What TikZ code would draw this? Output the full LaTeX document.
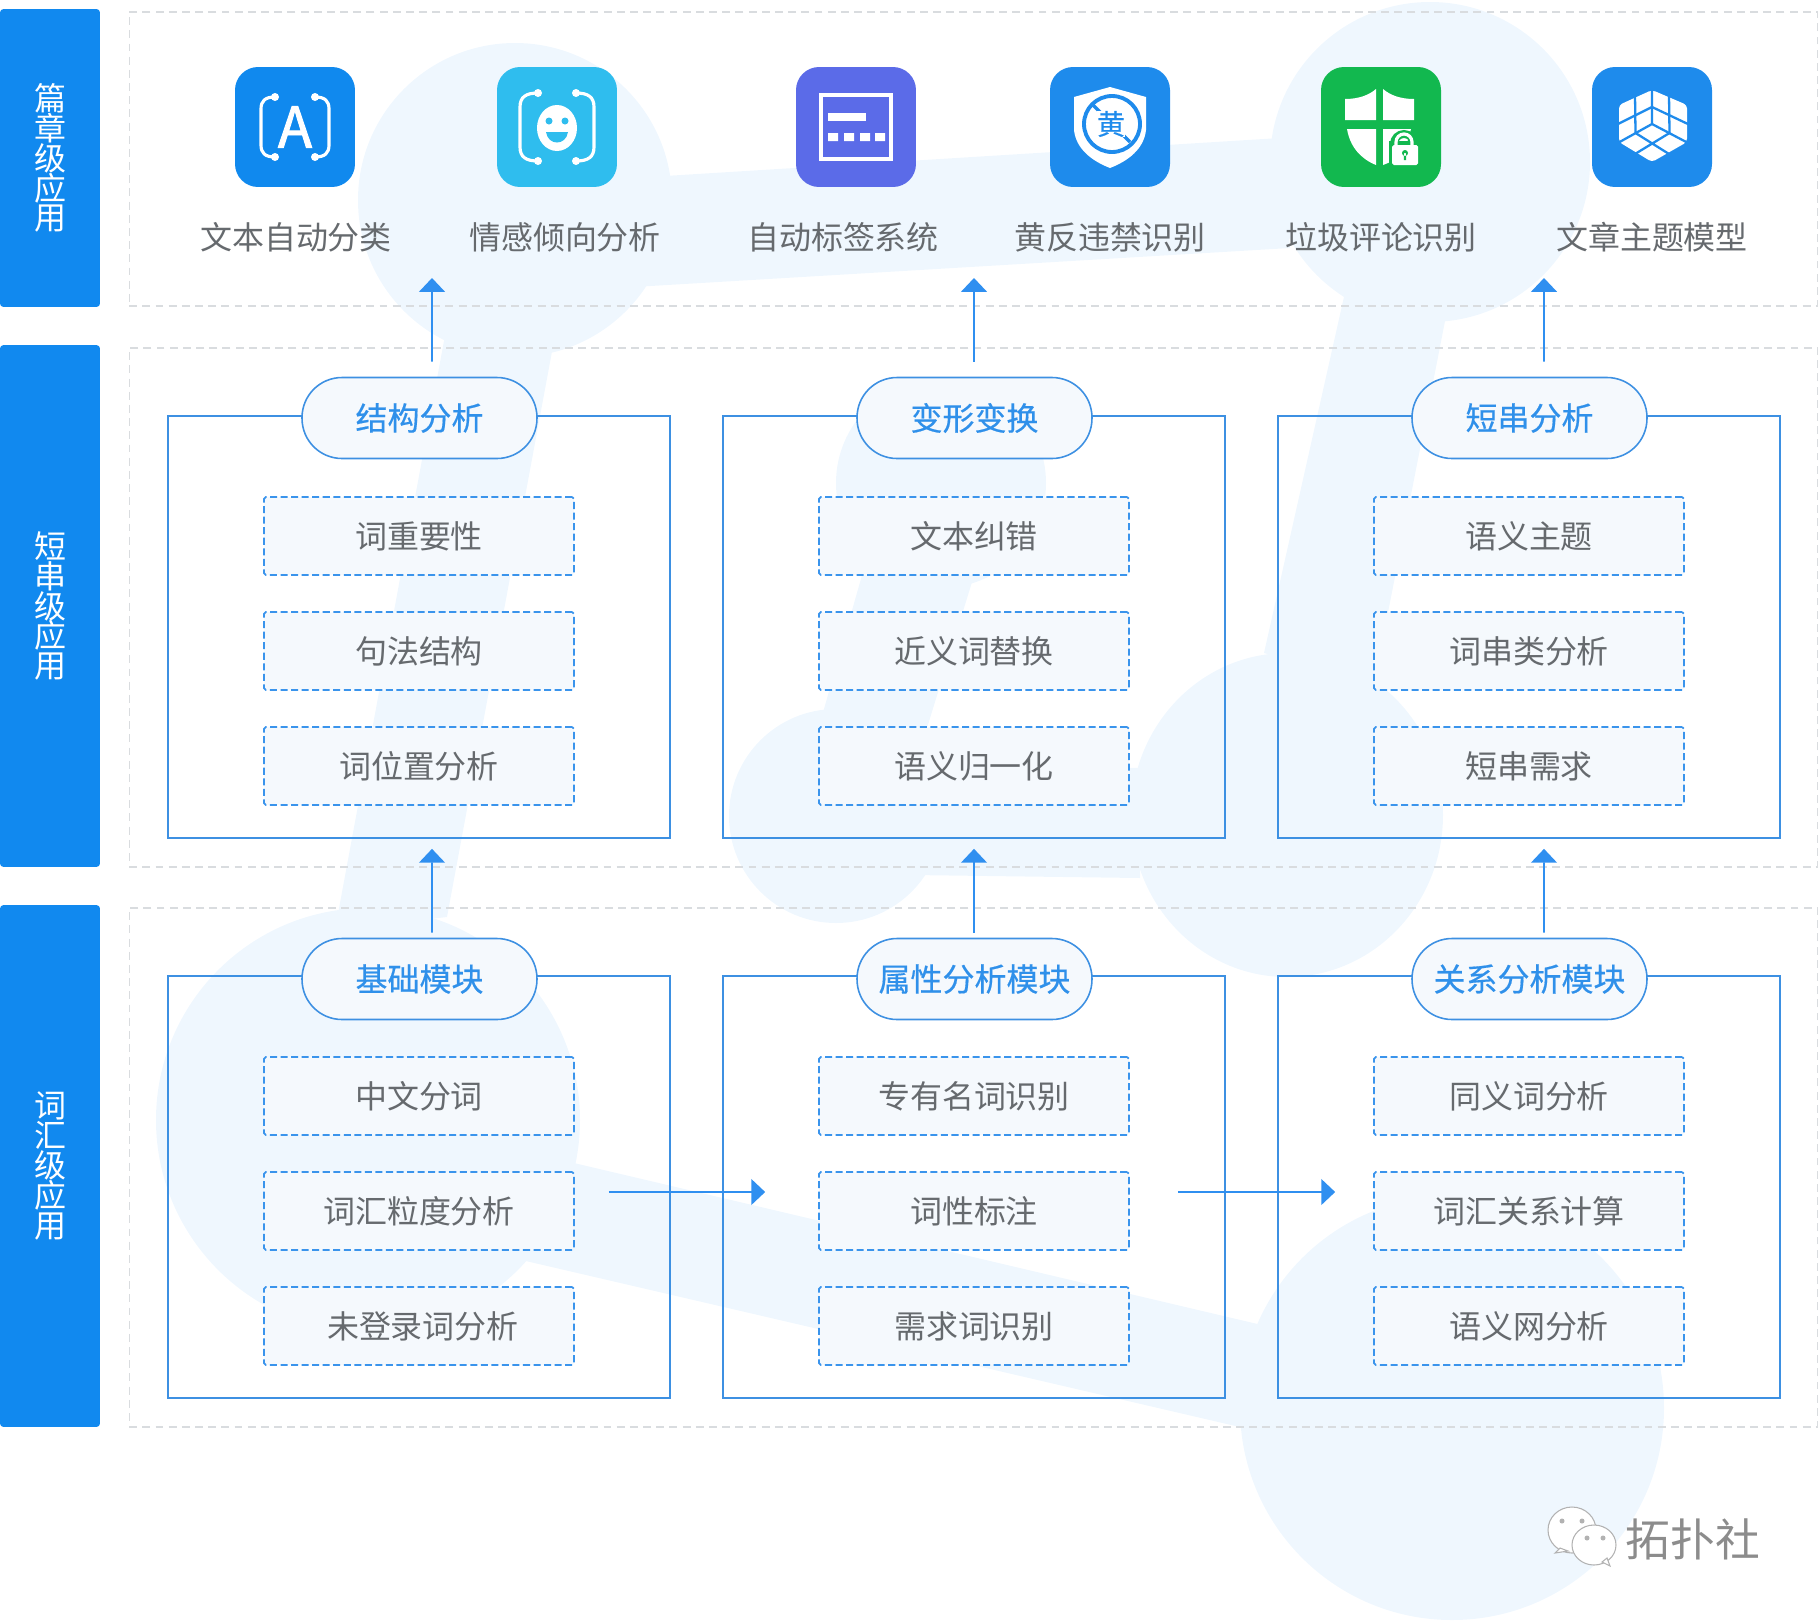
\documentclass[tikz,border=0pt]{standalone}
\usepackage{fontspec}
\setmainfont{Noto Sans CJK SC}
\newfontfamily\cjkmed[FakeBold=0.5]{Noto Sans CJK SC}
\newfontfamily\cjkheavy[FakeBold=1.6]{Noto Sans CJK SC}
\usetikzlibrary{arrows.meta,calc}
\definecolor{bgblue}{HTML}{EFF7FE}
\definecolor{bandblue}{HTML}{1189EF}
\definecolor{lineblue}{HTML}{3D90E2}
\definecolor{dashblue}{HTML}{3A94EC}
\definecolor{arblue}{HTML}{2F8FF0}
\definecolor{pilltxt}{HTML}{2F90EA}
\definecolor{boxfill}{HTML}{F5F9FD}
\definecolor{txtgray}{HTML}{666A6E}
\definecolor{framegray}{HTML}{D9DCDF}
\definecolor{icoa}{HTML}{1089EE}
\definecolor{icob}{HTML}{2FBDEE}
\definecolor{icoc}{HTML}{5B6BE8}
\definecolor{icod}{HTML}{1E8BEC}
\definecolor{icoe}{HTML}{12B84F}
\tikzset{
  bgshape/.style={fill=bgblue},
  band/.style={fill=bandblue,rounded corners=2pt,minimum width=2cm,inner sep=0pt,text=white,align=center,font=\fontsize{18.2pt}{17pt}\selectfont},
  frame/.style={draw=framegray,line width=0.7pt,dash pattern=on 4.5pt off 3pt,minimum width=33.78cm,inner sep=0pt},
  grp/.style={draw=lineblue,line width=1pt,minimum width=10.04cm,minimum height=8.44cm,inner sep=0pt},
  pill/.style={draw=lineblue,line width=0.9pt,fill=boxfill,rounded corners=0.8cm,minimum width=4.7cm,minimum height=1.62cm,inner sep=0pt,text=pilltxt,font=\cjkmed\fontsize{18.2pt}{18pt}\selectfont},
  item/.style={draw=dashblue,line width=1pt,dash pattern=on 4pt off 2pt,fill=boxfill,rounded corners=1pt,minimum width=6.2cm,minimum height=1.56cm,inner sep=0pt,text=txtgray,font=\fontsize{18.2pt}{18pt}\selectfont},
  ico/.style={rounded corners=0.46cm,minimum width=2.4cm,minimum height=2.4cm,inner sep=0pt},
  lbl/.style={text=txtgray,inner sep=0pt,font=\fontsize{18.2pt}{18pt}\selectfont},
  ar/.style={-{Triangle[length=7.9pt,width=14.7pt]},draw=arblue,line width=1pt},
  glyphln/.style={draw=white,line width=1.8pt},
  bubble/.style={fill=white,draw=black!30,line width=0.6pt}
}
\begin{document}
\begin{tikzpicture}[x=0.02cm,y=-0.02cm]
\useasboundingbox (0,0) rectangle (1819,1620);

% background
\fill[bgshape] (515,200) circle[radius=157];
\fill[bgshape] (1430,162) circle[radius=160];
\fill[bgshape] (941,483) circle[radius=105];
\fill[bgshape] (836,816) circle[radius=107];
\fill[bgshape] (1287,815) ellipse[x radius=156,y radius=162];
\fill[bgshape] (368,1120) circle[radius=212];
\fill[bgshape] (1452,1408) circle[radius=212];
\fill[bgshape] (600,180) -- (1280,138) -- (1290,248) -- (600,289) -- cycle;
\fill[bgshape] (446,330) -- (556,330) -- (447,917) -- (335,930) -- cycle;
\fill[bgshape] (872,540) -- (985,540) -- (914,770) -- (818,730) -- cycle;
\fill[bgshape] (1350,270) -- (1455,270) -- (1374,684) -- (1264,653) -- cycle;
\fill[bgshape] (836,762) -- (1140,768) -- (1140,878) -- (836,874) -- cycle;
\fill[bgshape] (540,1155) -- (1300,1334) -- (1300,1441) -- (500,1255) -- cycle;

\node[frame,minimum height=5.88cm] (frta) at (973.5,159) {};
\node[frame,minimum height=10.38cm] (frtb) at (973.5,607.5) {};
\node[frame,minimum height=10.38cm] (frtc) at (973.5,1167.5) {};

\node[band,minimum height=5.96cm] (banda) at (50,158) {篇\\章\\级\\应\\用};
\node[band,minimum height=10.44cm] (bandb) at (50,606) {短\\串\\级\\应\\用};
\node[band,minimum height=10.44cm] (bandc) at (50,1166) {词\\汇\\级\\应\\用};

% icons
\node[ico,fill=icoa] (icona) at (295,127) {};
\begin{scope}[shift={(295,127)}]
\draw[glyphln] (-20,-30) .. controls (-30,-30) and (-34,-26) .. (-34,-18) -- (-34,18) .. controls (-34,26) and (-30,30) .. (-20,30);
\draw[glyphln] (20,-30) .. controls (30,-30) and (34,-26) .. (34,-18) -- (34,18) .. controls (34,26) and (30,30) .. (20,30);
\fill[white] (-20,-30) circle[radius=4] (20,-30) circle[radius=4] (-20,30) circle[radius=4] (20,30) circle[radius=4];
\node[inner sep=0pt,text=white,font=\cjkheavy\fontsize{32pt}{32pt}\selectfont] (icaa) at (0,0) {A};
\end{scope}

\node[ico,fill=icob] (iconb) at (557,127) {};
\begin{scope}[shift={(557,127)}]
\draw[glyphln] (-19,-34) .. controls (-31,-34) and (-37,-30) .. (-37,-20) -- (-37,20) .. controls (-37,30) and (-31,34) .. (-19,34);
\draw[glyphln] (19,-34) .. controls (31,-34) and (37,-30) .. (37,-20) -- (37,20) .. controls (37,30) and (31,34) .. (19,34);
\fill[white] (-19,-34) circle[radius=4] (19,-34) circle[radius=4] (-19,34) circle[radius=4] (19,34) circle[radius=4];
\fill[white] (0,1) ellipse[x radius=20,y radius=23];
\fill[icob] (-8,-6) circle[radius=3.5] (8,-6) circle[radius=3.5];
\fill[icob] (-11,5) .. controls (-9,19) and (9,19) .. (11,5) -- cycle;
\end{scope}

\node[ico,fill=icoc] (iconc) at (856,127) {};
\begin{scope}[shift={(856,127)}]
\draw[white,line width=2.8pt] (-35,-32) rectangle (35,32);
\fill[white] (-28,-14) rectangle (10,-6);
\fill[white] (-28,6) rectangle (-18,14) (-12,6) rectangle (-2,14) (4,6) rectangle (14,14) (19,6) rectangle (29,14);
\end{scope}

\node[ico,fill=icod] (icond) at (1110,127) {};
\begin{scope}[shift={(1110,127)}]
\fill[white] (0,-40) -- (36,-30) -- (36,3) .. controls (34,22) and (18,34) .. (0,41) .. controls (-18,34) and (-34,22) .. (-36,3) -- (-36,-30) -- cycle;
\draw[icod,line width=2.2pt] (2,-3) circle[radius=28];
\draw[icod,line width=2pt] (-18,-23) -- (20,15);
\node[inner sep=0pt,fill=white,text=icod,font=\cjkmed\fontsize{16pt}{16pt}\selectfont] (icdh) at (1,-3) {黄};
\end{scope}

\node[ico,fill=icoe] (icone) at (1381,127) {};
\begin{scope}[shift={(1381,127)}]
\fill[white] (-36,-28) .. controls (-22,-28) and (-12,-32) .. (-5,-38) -- (-5,-7) -- (-36,-7) -- cycle;
\fill[white] (33,-28) .. controls (19,-28) and (9,-32) .. (2,-38) -- (2,-7) -- (33,-7) -- cycle;
\fill[white] (-34,2) -- (-5,2) -- (-5,38) .. controls (-20,32) and (-31,20) .. (-34,2) -- cycle;
\fill[white] (2,2) -- (30,2) -- (22,30) -- (2,38) -- cycle;
\draw[icoe,line width=4.5pt] (13,22) -- (13,17) arc[start angle=180,end angle=360,radius=10] -- (33,22);
\fill[icoe] (8,14) rectangle (40,42);
\draw[white,line width=1.8pt] (15,20) -- (15,15) arc[start angle=180,end angle=360,radius=8] -- (31,20);
\fill[white,rounded corners=1pt] (11,18) rectangle (37,38);
\fill[icoe] (24,26) circle[radius=3] (22.8,26) rectangle (25.2,33);
\end{scope}

\node[ico,fill=icod] (iconf) at (1652,127) {};
\begin{scope}[shift={(1652,127)}]
\fill[white,rounded corners=2pt] (0,-37) -- (35,-22) -- (35,15) -- (0,35) -- (-33,15) -- (-33,-22) -- cycle;
\draw[icod,line width=1.3pt] (0,-40) -- (0,-3) -- (38,17) (0,-3) -- (-36,17);
\draw[icod,line width=1.3pt] (-17,-32) -- (-16.5,6) -- (17,27) (17,-32) -- (17.5,6) -- (-17,27);
\draw[icod,line width=1.3pt] (-36,-2) -- (0,-20) -- (38,-2);
\end{scope}

\node[lbl] (lbla) at (296,237) {文本自动分类};
\node[lbl] (lblb) at (565,237) {情感倾向分析};
\node[lbl] (lblc) at (843,237) {自动标签系统};
\node[lbl] (lbld) at (1110,237) {黄反违禁识别};
\node[lbl] (lble) at (1381,237) {垃圾评论识别};
\node[lbl] (lblf) at (1652,237) {文章主题模型};

% middle row
\node[grp] (ga) at (419,627) {};
\node[pill] (gap) at (419.5,418) {结构分析};
\node[item] (ga1) at (419,536) {词重要性};
\node[item] (ga2) at (419,651) {句法结构};
\node[item] (ga3) at (419,766) {词位置分析};

\node[grp] (gb) at (974,627) {};
\node[pill] (gbp) at (974.5,418) {变形变换};
\node[item] (gb1) at (974,536) {文本纠错};
\node[item] (gb2) at (974,651) {近义词替换};
\node[item] (gb3) at (974,766) {语义归一化};

\node[grp] (gc) at (1529,627) {};
\node[pill] (gcp) at (1529.5,418) {短串分析};
\node[item] (gc1) at (1529,536) {语义主题};
\node[item] (gc2) at (1529,651) {词串类分析};
\node[item] (gc3) at (1529,766) {短串需求};

% bottom row
\node[grp] (ha) at (419,1187) {};
\node[pill] (hap) at (419.5,979) {基础模块};
\node[item] (ha1) at (419,1096) {中文分词};
\node[item] (ha2) at (419,1211) {词汇粒度分析};
\node[item] (ha3) at (419,1326) {\hspace{4.5pt}未登录词分析};

\node[grp] (hb) at (974,1187) {};
\node[pill] (hbp) at (974.5,979) {属性分析模块};
\node[item] (hb1) at (974,1096) {专有名词识别};
\node[item] (hb2) at (974,1211) {词性标注};
\node[item] (hb3) at (974,1326) {需求词识别};

\node[grp] (hc) at (1529,1187) {};
\node[pill] (hcp) at (1529.5,979) {关系分析模块};
\node[item] (hc1) at (1529,1096) {同义词分析};
\node[item] (hc2) at (1529,1211) {词汇关系计算};
\node[item] (hc3) at (1529,1326) {语义网分析};

% arrows
\coordinate (tipa) at (432,278);
\coordinate (tipb) at (974,278);
\coordinate (tipc) at (1544,278);
\draw[ar] ([shift={(12.5,-15)}]gap.north) -- (tipa);
\draw[ar] ([shift={(-0.5,-15)}]gbp.north) -- (tipb);
\draw[ar] ([shift={(14.5,-15)}]gcp.north) -- (tipc);
\draw[ar] ([shift={(12.5,-5)}]hap.north) -- ([shift={(13,10)}]ga.south);
\draw[ar] ([shift={(-0.5,-5)}]hbp.north) -- ([shift={(0,10)}]gb.south);
\draw[ar] ([shift={(14.5,-5)}]hcp.north) -- ([shift={(15,10)}]gc.south);
\draw[ar] ([shift={(34,-19)}]ha2.east) -- ([shift={(-53,-19)}]hb2.west);
\draw[ar] ([shift={(48,-19)}]hb2.east) -- ([shift={(-38,-19)}]hc2.west);

% watermark
\fill[bubble] (1572,1530) ellipse[x radius=24,y radius=23];
\fill[bubble] (1560,1548) -- (1555,1553) -- (1568,1551) -- cycle;
\fill[bubble] (1594,1545) ellipse[x radius=22,y radius=20];
\fill[bubble] (1602,1562) -- (1610,1566) -- (1607,1558) -- cycle;
\fill[black!30] (1562,1521) circle[radius=2.5] (1582,1521) circle[radius=2.5] (1587,1538) circle[radius=2.5] (1603,1538) circle[radius=2.5];
\node[inner sep=0pt,text=black!45,font=\fontsize{25.5pt}{25pt}\selectfont] (wmark) at (1693,1539) {拓扑社};
\end{tikzpicture}
\end{document}
